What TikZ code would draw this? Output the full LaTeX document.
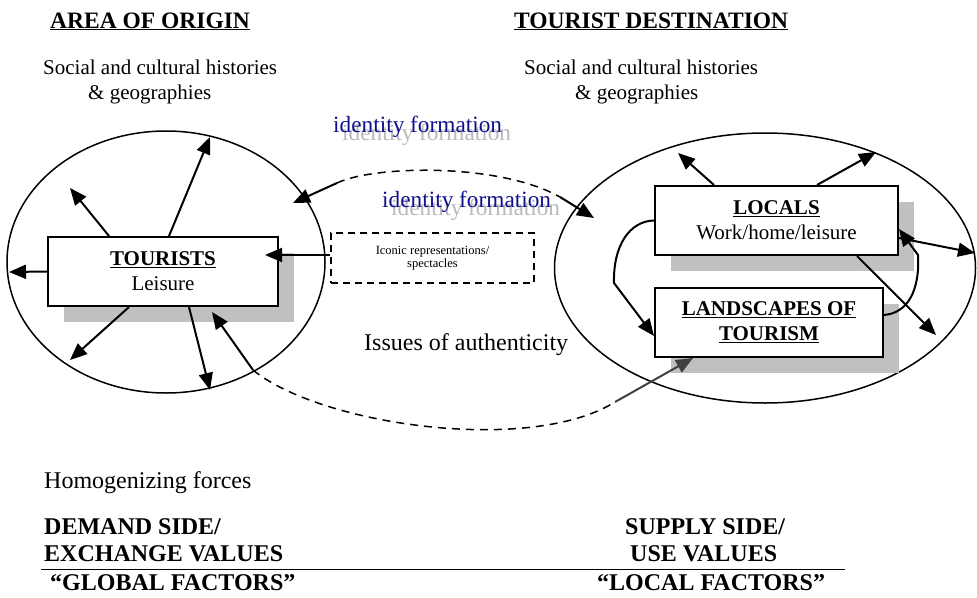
\documentclass[tikz,border=0pt]{standalone}
\usepackage{fontspec}
\setmainfont{Liberation Serif}
\usetikzlibrary{arrows.meta,shapes.geometric,shadows,calc}
\definecolor{idblue}{RGB}{16,16,140}
\definecolor{idshadow}{RGB}{185,185,185}
\definecolor{shadowgray}{RGB}{192,192,192}
\definecolor{darkarrow}{RGB}{64,64,64}
\tikzset{
  body/.style={anchor=base west, inner sep=0pt, font=\fontsize{21}{25}\selectfont},
  head/.style={anchor=base west, inner sep=0pt, font=\bfseries\fontsize{23.5}{28}\selectfont},
  big/.style={anchor=base west, inner sep=0pt, font=\fontsize{24}{28}\selectfont},
  bigbold/.style={anchor=base west, inner sep=0pt, font=\bfseries\fontsize{24}{28}\selectfont},
  idtext/.style={anchor=base west, inner sep=0pt, font=\fontsize{23.3}{28}\selectfont, text=idblue},
  idshade/.style={anchor=base west, inner sep=0pt, font=\fontsize{23.3}{28}\selectfont, text=idshadow},
  region/.style={draw, ellipse, line width=1.5pt, inner sep=0pt},
  boxnode/.style={draw, line width=2pt, fill=white, rectangle, align=center, inner sep=0pt,
    font=\fontsize{21}{25}\selectfont,
    drop shadow={shadow xshift=16pt, shadow yshift=-16pt, fill=shadowgray, opacity=1}},
  iconbox/.style={draw, line width=1.5pt, dash pattern=on 7pt off 5pt, rectangle, align=center,
    inner sep=0pt, font=\fontsize{12.5}{13}\selectfont},
  arr/.style={line width=2pt, -{Triangle[length=17pt,width=14pt]}},
  dasharc/.style={line width=1.5pt, dash pattern=on 8pt off 6pt},
}
\begin{document}
\begin{tikzpicture}[x=1pt,y=-1pt]
\useasboundingbox (0,0) rectangle (977,597);

% regions
\node[region, minimum width=318pt, minimum height=262pt] (origin) at (166,262) {};
\node[region, minimum width=421pt, minimum height=270pt] (dest) at (765,268) {};

% boxes
\node[boxnode, minimum width=230pt, minimum height=69pt] (tourists) at (163,271.5)
  {\underline{\textbf{TOURISTS}}\\Leisure};
\node[boxnode, minimum width=243pt, minimum height=69pt] (locals) at (776.5,220.5)
  {\underline{\textbf{LOCALS}}\\Work/home/leisure};
\node[boxnode, minimum width=228pt, minimum height=69pt] (landscapes) at (769,322.5)
  {\underline{\textbf{LANDSCAPES OF}}\\\underline{\textbf{TOURISM}}};
\node[iconbox, minimum width=203pt, minimum height=50pt] (iconic) at (432.5,258)
  {Iconic representations/\\spectacles};

% free ends
\coordinate (o1) at (9,272);
\coordinate (o2) at (70,188);
\coordinate (o3) at (210,137);
\coordinate (o4) at (70,360);
\coordinate (o5) at (210,390);
\coordinate (tin) at (265,255);
\coordinate (bret) at (212,312);
\coordinate (u1) at (337,183);
\coordinate (u2) at (560,197);
\coordinate (uL) at (293,203);
\coordinate (uR) at (594,218);
\coordinate (b1) at (253,370);
\coordinate (b2) at (615,402);
\coordinate (bR) at (693,358);
\coordinate (d1) at (678,153);
\coordinate (d2) at (876,152);
\coordinate (d3) at (975,253);
\coordinate (d4) at (936,335);
\coordinate (lk) at (614,283);
\coordinate (rk) at (918,255);

% area of origin arrows
\draw[arr] (tourists.west) -- (o1);
\draw[arr] ([xshift=62pt]tourists.north west) -- (o2);
\draw[arr] ([xshift=122pt]tourists.north west) -- (o3);
\draw[arr] ([xshift=82pt]tourists.south west) -- (o4);
\draw[arr] ([xshift=142pt]tourists.south west) -- (o5);
\draw[arr] ([yshift=3pt]iconic.west) -- (tin);

% identity formation arc
\draw[arr] (u1) -- (uL);
\draw[dasharc] (u1) .. controls (375,165) and (500,163) .. (u2);
\draw[arr] (u2) -- (uR);

% authenticity arc
\draw[arr] (b1) -- (bret);
\draw[dasharc] (b1) .. controls (320,425) and (530,455) .. (b2);
\draw[arr, darkarrow] (b2) -- (bR);

% destination arrows
\draw[arr] ([xshift=60pt]locals.north west) -- (d1);
\draw[arr] ([xshift=163pt]locals.north west) -- (d2);
\draw[arr] ([yshift=-17.5pt]locals.east) -- (d3);
\draw[arr] ([xshift=203pt]locals.south west) -- (d4);
\draw[arr] (locals.west) .. controls (630,221) and (613,245) .. (lk) -- ([yshift=-13.5pt]landscapes.west);
\draw[arr] ([yshift=7.5pt]landscapes.east) .. controls (908,313) and (920,290) .. (rk) -- ([yshift=-8.5pt]locals.east);

% texts
\node[head] (hOrigin) at (50,28) {\underline{AREA OF ORIGIN}};
\node[head] (hDest) at (514,28) {\underline{TOURIST DESTINATION}};
\node[body] (so1) at (43,74) {Social and cultural histories};
\node[body] (so2) at (88,99) {\& geographies};
\node[body] (sd1) at (524,74) {Social and cultural histories};
\node[body] (sd2) at (575,99) {\& geographies};
\node[idshade] (idAs) at (342,140) {identity formation};
\node[idtext] (idA) at (333,132) {identity formation};
\node[idshade] (idBs) at (391,215) {identity formation};
\node[idtext] (idB) at (382,207) {identity formation};
\node[big] (auth) at (364,350) {Issues of authenticity};
\node[big] (homog) at (44,488) {Homogenizing forces};
\node[bigbold] (dem1) at (44,534) {DEMAND SIDE/};
\node[bigbold] (dem2) at (44,561) {EXCHANGE VALUES};
\node[bigbold] (sup1) at (625,534) {SUPPLY SIDE/};
\node[bigbold] (sup2) at (630,561) {USE VALUES};
\draw[line width=1pt] (41,569) -- (845,569);
\node[bigbold] (glob) at (50,590) {“GLOBAL FACTORS”};
\node[bigbold] (loc) at (597,590) {“LOCAL FACTORS”};
\end{tikzpicture}
\end{document}
